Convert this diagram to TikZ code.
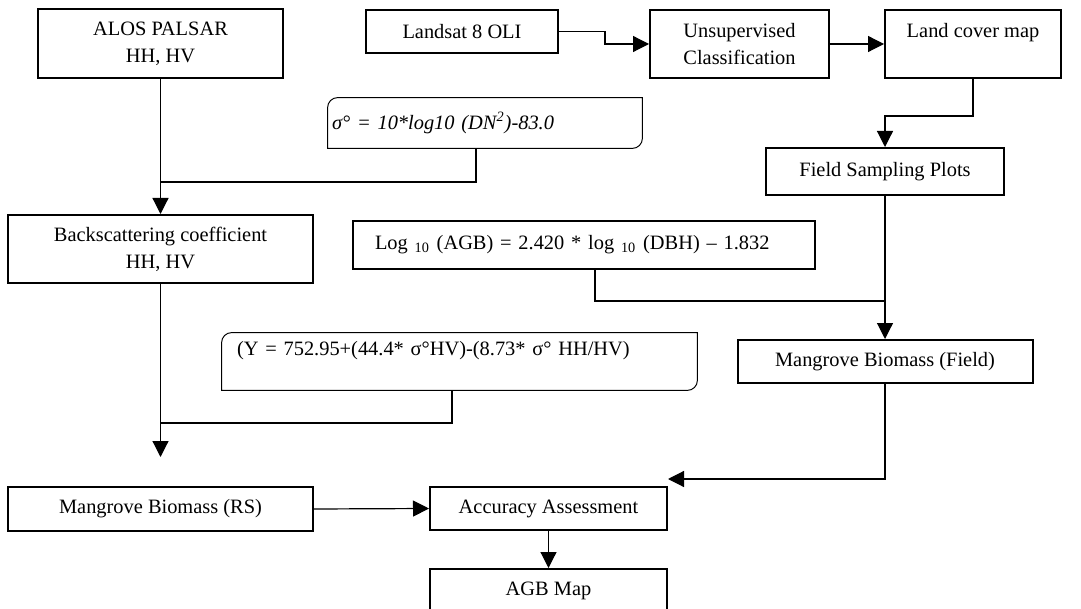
\documentclass[tikz,border=0pt]{standalone}
\usepackage{fontspec}
\setmainfont{Liberation Serif}
\usetikzlibrary{arrows.meta, positioning}
\tikzset{
    procBox/.style={rectangle, draw, line width=1pt, inner sep=0pt, align=center, font=\fontsize{10.2}{13.5}\selectfont},
    eqnBox/.style={rectangle, inner ysep=0pt, align=left, font=\fontsize{10.2}{13.5}\selectfont},
    eqnLine/.style={line width=0.5pt},
    flowEdge/.style={-{Triangle[length=8pt, width=8pt]}, line width=0.6pt},
    flowLine/.style={line width=0.6pt},
}
\newcommand{\drawEqnBox}[1]{
    \draw[eqnLine] (#1.south west) -- ([yshift=-5pt]#1.north west) arc[start angle=180, end angle=90, radius=5pt] -- (#1.north east) -- ([yshift=5pt]#1.south east) arc[start angle=0, end angle=-90, radius=5pt] -- cycle;
}
\begin{document}
\begin{tikzpicture}[x=0.5pt, y=-0.5pt]
    \useasboundingbox (0,0) rectangle (1081,609);
    \clip (0,0) rectangle (1081,609);

    \node[procBox, minimum width=122.5pt, minimum height=34.5pt] (AL) at (160.5,43.5) {ALOS PALSAR\\HH, HV};
    \node[procBox, minimum width=96pt, minimum height=21.5pt] (LS) at (462,31.5) {Landsat 8 OLI};
    \node[procBox, minimum width=89.5pt, minimum height=34pt] (US) at (739.5,44) {Unsupervised\\Classification};
    \node[procBox, minimum width=88pt, minimum height=34pt] (LC) at (973,44) {Land cover map\\\mbox{}};
    \node[eqnBox, text width=153pt, inner xsep=2pt, minimum height=25pt] (SG) at (485,123) {\itshape σ° = 10*log10 (DN\textsuperscript{2})-83.0};
    \node[procBox, minimum width=119pt, minimum height=23.5pt] (FP) at (885,171.5) {Field Sampling Plots};
    \node[procBox, minimum width=152.5pt, minimum height=34pt] (BS) at (160.5,249) {Backscattering coefficient\\HH, HV};
    \node[procBox, align=left, text width=209pt, inner xsep=11pt, minimum height=24pt] (LG) at (584,245) {Log \textsubscript{10} (AGB) = 2.420 * log \textsubscript{10} (DBH) -- 1.832};
    \node[eqnBox, text width=222.5pt, inner xsep=7.5pt, minimum height=28.5pt] (YB) at (459.5,361.5) {(Y = 752.95+(44.4* σ°HV)-(8.73* σ° HH/HV)\\\mbox{}};
    \node[procBox, minimum width=147.5pt, minimum height=21.5pt] (MF) at (885,361.5) {Mangrove Biomass (Field)};
    \node[procBox, minimum width=152.5pt, minimum height=22pt] (MR) at (160.5,509) {Mangrove Biomass (RS)};
    \node[procBox, minimum width=118.5pt, minimum height=21.5pt] (AC) at (548.5,508.5) {Accuracy Assessment};
    \node[procBox, minimum width=118.5pt, minimum height=21.5pt] (AG) at (548.5,590.5) {AGB Map};

    \drawEqnBox{SG}
    \drawEqnBox{YB}

    % joints and free ends
    \coordinate (jA) at (160.5,182);
    \coordinate (jB) at (160.5,423);
    \coordinate (jF) at (885,301);
    \coordinate (eB) at (160.5,457);
    \coordinate (eF) at (668,479);

    \draw[flowEdge] (LS.east) -- ++(46,0) |- (US.west);
    \draw[flowEdge] (US.east) -- (LC.west);
    \draw[flowEdge] (LC.south) -- ++(0,37) -| (FP.north);
    \draw[flowEdge] (FP.south) -- (MF.north);
    \draw[flowLine] ([xshift=5.5pt]LG.south) |- (jF);

    \draw[flowEdge] (AL.south) -- (BS.north);
    \draw[flowLine] ([xshift=-4.5pt]SG.south) |- (jA);
    \draw[flowEdge] (BS.south) -- (eB);
    \draw[flowLine] ([xshift=-3.75pt]YB.south) |- (jB);

    \draw[flowEdge] (MF.south) |- (eF);
    \draw[flowEdge] (MR.east) -- (AC.west);
    \draw[flowEdge] (AC.south) -- (AG.north);

\end{tikzpicture}
\end{document}
